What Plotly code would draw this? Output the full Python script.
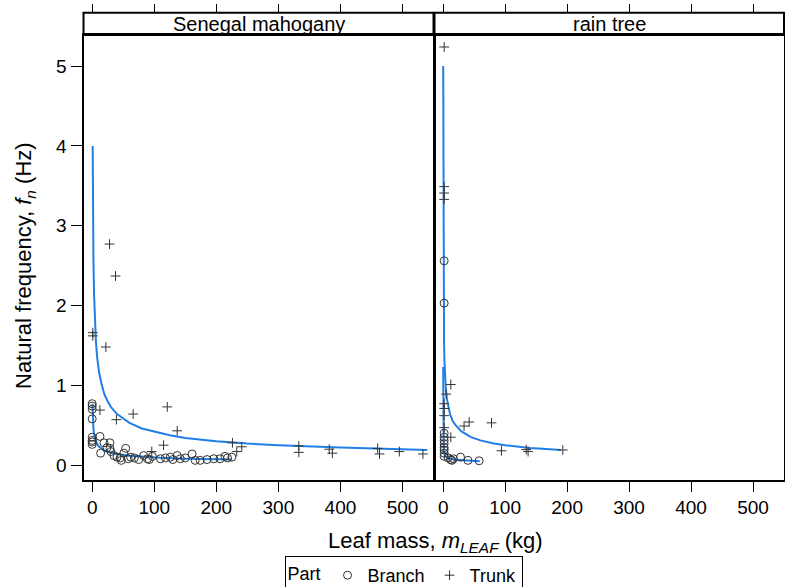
import plotly.graph_objects as go

# ---- data ----
panels = ["Senegal mahogany", "rain tree"]

# Senegal mahogany
sm_branch_x = [0, 0, 0, 0, 0, 0, 0, 0, 12.5, 19, 28.6, 13.6, 24, 28.6, 35, 40, 47, 54, 51, 62, 75, 83, 89,
               97, 110, 126, 137, 142, 161, 166, 174, 196, 206, 214, 225, 30, 45, 58, 68, 92, 118, 130, 150, 185, 218]
sm_branch_y = [0.77, 0.74, 0.70, 0.58, 0.35, 0.29, 0.26, 0.31, 0.36, 0.28, 0.28, 0.15, 0.22, 0.21, 0.12, 0.10, 0.06,
               0.21, 0.15, 0.10, 0.07, 0.12, 0.08, 0.11, 0.08, 0.10, 0.12, 0.08, 0.14, 0.06, 0.06, 0.08, 0.08, 0.11,
               0.10, 0.17, 0.09, 0.08, 0.09, 0.07, 0.09, 0.07, 0.09, 0.07, 0.09]
sm_trunk_x = [1, 1, 22, 28, 37.6, 12.5, 39, 66, 121, 137, 115, 96, 226, 233, 241, 333, 333, 382, 387, 460, 463, 495, 533]
sm_trunk_y = [1.66, 1.62, 1.48, 2.77, 2.37, 0.69, 0.57, 0.64, 0.73, 0.43, 0.25, 0.17, 0.28, 0.17, 0.23, 0.24, 0.16,
              0.20, 0.15, 0.21, 0.14, 0.17, 0.14]
sm_fit_trunk_x = [0.8, 1, 1.5, 2, 3, 4, 6, 8, 11, 15, 20, 25, 30, 40, 50, 60, 80, 100, 125, 150, 200, 250, 300, 400, 540]
sm_fit_trunk_y = [4.0, 3.58, 2.96, 2.59, 2.14, 1.87, 1.55, 1.35, 1.17, 1.02, 0.88, 0.80, 0.73, 0.64, 0.58, 0.53,
                  0.46, 0.42, 0.375, 0.34, 0.30, 0.27, 0.25, 0.22, 0.19]
sm_fit_branch_x = [0.55, 0.75, 1, 1.5, 2, 3, 5, 7, 10, 15, 20, 30, 40, 60, 80, 110, 150, 225]
sm_fit_branch_y = [0.77, 0.68, 0.61, 0.52, 0.46, 0.39, 0.32, 0.28, 0.24, 0.205, 0.18, 0.156, 0.14, 0.118, 0.105,
                   0.093, 0.081, 0.070]

# rain tree
rt_branch_x = [1.6, 1.6, 1.6, 1.6, 1.6, 1.6, 1.6, 1.6, 1.6, 1.6, 12, 16.5, 28, 40, 58, 8, 14]
rt_branch_y = [2.56, 2.03, 0.40, 0.35, 0.31, 0.27, 0.22, 0.19, 0.15, 0.11, 0.07, 0.08, 0.10, 0.06, 0.055, 0.09, 0.06]
rt_trunk_x = [1.6, 1.6, 1.6, 1.6, 12.3, 4.8, 1.6, 1.6, 1.6, 1.6, 12.3, 33.7, 42, 78, 94, 134, 137, 193]
rt_trunk_y = [5.24, 3.49, 3.41, 3.33, 1.01, 0.89, 0.77, 0.71, 0.62, 0.47, 0.35, 0.49, 0.54, 0.53, 0.18, 0.195, 0.17, 0.19]
rt_fit_trunk_x = [0.09, 0.15, 0.2, 0.3, 0.45, 0.6, 1, 1.4, 2, 3, 4, 6, 8, 11, 15, 20, 30, 45, 60, 80, 100, 120, 140,
                  160, 190]
rt_fit_trunk_y = [5.0, 4.0, 3.53, 2.97, 2.50, 2.21, 1.78, 1.54, 1.32, 1.11, 0.99, 0.83, 0.73, 0.64, 0.56, 0.50, 0.42,
                  0.35, 0.31, 0.275, 0.25, 0.23, 0.216, 0.205, 0.19]
rt_fit_branch_x = [0.00064, 0.003, 0.01, 0.05, 0.2, 1, 3, 8, 20, 40, 59]
rt_fit_branch_y = [1.23, 0.80, 0.57, 0.36, 0.25, 0.157, 0.115, 0.088, 0.068, 0.056, 0.05]

x_ticks = [0, 100, 200, 300, 400, 500]
y_ticks = [0, 1, 2, 3, 4, 5]

# ---- styling ----
FONT = "Liberation Sans, Arial, sans-serif"
PT = "#333333"
BLUE = "#1f7fe6"
W, H = 785, 587

fig = go.Figure()

def add_panel(xa, ya, bx, by, tx, ty, fbx, fby, ftx, fty, legend):
    fig.add_trace(go.Scatter(x=ftx, y=fty, mode="lines", line=dict(color=BLUE, width=2),
                             xaxis=xa, yaxis=ya, showlegend=False, hoverinfo="skip"))
    fig.add_trace(go.Scatter(x=fbx, y=fby, mode="lines", line=dict(color=BLUE, width=2),
                             xaxis=xa, yaxis=ya, showlegend=False, hoverinfo="skip"))
    fig.add_trace(go.Scatter(x=bx, y=by, mode="markers", name="Branch", legendgroup="b",
                             marker=dict(symbol="circle-open", size=8, color=PT, line=dict(width=1)),
                             xaxis=xa, yaxis=ya, showlegend=legend))
    fig.add_trace(go.Scatter(x=tx, y=ty, mode="markers", name="Trunk", legendgroup="t",
                             marker=dict(symbol="cross-thin-open", size=7, color=PT, line=dict(width=1)),
                             xaxis=xa, yaxis=ya, showlegend=legend))

add_panel("x", "y", sm_branch_x, sm_branch_y, sm_trunk_x, sm_trunk_y,
          sm_fit_branch_x, sm_fit_branch_y, sm_fit_trunk_x, sm_fit_trunk_y, True)
add_panel("x2", "y2", rt_branch_x, rt_branch_y, rt_trunk_x, rt_trunk_y,
          rt_fit_branch_x, rt_fit_branch_y, rt_fit_trunk_x, rt_fit_trunk_y, False)

# invisible traces so the top tick axes get drawn
fig.add_trace(go.Scatter(x=[None], y=[None], xaxis="x3", yaxis="y", showlegend=False, hoverinfo="skip"))
fig.add_trace(go.Scatter(x=[None], y=[None], xaxis="x4", yaxis="y2", showlegend=False, hoverinfo="skip"))

xr = [-14, 550]
yr = [-0.18, 5.39]
dom_l = [83.5 / W, 433.5 / W]
dom_r = [434.5 / W, 784 / W]
dom_y = [1 - 479.5 / H, 1 - 35 / H]
strip_top = 1 - 12.7 / H

xcommon = dict(range=xr, tickvals=x_ticks, ticks="outside", ticklen=10, tickwidth=1, tickcolor="black",
               showgrid=False, zeroline=False, showline=True, linecolor="black", linewidth=2, mirror=True,
               tickfont=dict(family=FONT, size=19, color="black"))
ycommon = dict(range=yr, tickvals=y_ticks, showgrid=False, zeroline=False, showline=True,
               linecolor="black", linewidth=2, mirror=True, domain=dom_y,
               tickfont=dict(family=FONT, size=19, color="black"))
topcommon = dict(range=xr, tickvals=x_ticks, ticks="outside", ticklen=9, tickwidth=1, tickcolor="black",
                 showgrid=False, zeroline=False, showline=False, showticklabels=False,
                 anchor="free", position=strip_top, side="top")

fig.update_layout(
    width=W, height=H, margin=dict(l=0, r=0, t=0, b=0, autoexpand=False),
    paper_bgcolor="white", plot_bgcolor="white",
    xaxis=dict(domain=dom_l, anchor="y", **xcommon),
    xaxis2=dict(domain=dom_r, anchor="y2", **xcommon),
    xaxis3=dict(domain=dom_l, overlaying="x", **topcommon),
    xaxis4=dict(domain=dom_r, overlaying="x2", **topcommon),
    yaxis=dict(anchor="x", ticks="outside", ticklen=11, tickwidth=1, tickcolor="black", **ycommon),
    yaxis2=dict(anchor="x2", ticks="", showticklabels=False, **ycommon),
    showlegend=True,
    legend=dict(orientation="h", x=403.5 / W, xanchor="center", y=1 - 556 / H, yanchor="top",
                bordercolor="black", borderwidth=1, bgcolor="white",
                font=dict(family=FONT, size=18, color="black"),
                title=dict(text="Part", font=dict(family=FONT, size=18, color="black")),
                itemwidth=30, tracegroupgap=0, valign="middle"),
)

# strips
for dom, name in zip([dom_l, dom_r], panels):
    fig.add_shape(type="rect", xref="paper", yref="paper", x0=dom[0], x1=dom[1], y0=dom_y[1], y1=strip_top,
                  line=dict(color="black", width=2), fillcolor="white", layer="below")
    fig.add_annotation(x=(dom[0] + dom[1]) / 2, y=(dom_y[1] + strip_top) / 2, xref="paper", yref="paper",
                       text=name, showarrow=False, font=dict(family=FONT, size=20, color="black"),
                       xanchor="center", yanchor="middle")

# axis titles
fig.add_annotation(x=435 / W, y=1 - 542 / H, xref="paper", yref="paper", showarrow=False,
                   text="Leaf mass, <i>m</i><sub><i>LEAF</i></sub> (kg)",
                   font=dict(family=FONT, size=22, color="black"), xanchor="center", yanchor="middle")
fig.add_annotation(x=25 / W, y=1 - 266 / H, xref="paper", yref="paper", showarrow=False, textangle=-90,
                   text="Natural frequency, <i>f</i><sub><i>n</i></sub> (Hz)",
                   font=dict(family=FONT, size=22, color="black"), xanchor="center", yanchor="middle")

fig.write_html("out.html")
